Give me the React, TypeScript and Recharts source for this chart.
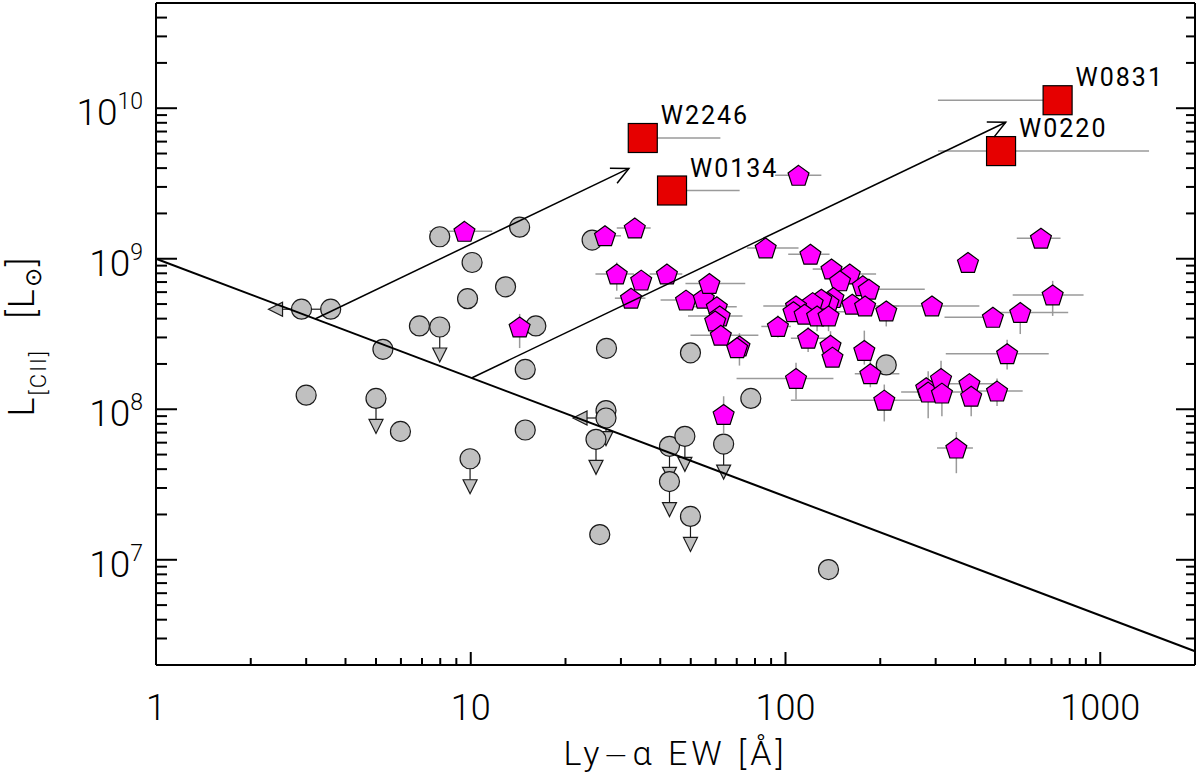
import React from "react";
import { ScatterChart, Scatter, XAxis, YAxis, ErrorBar, ReferenceLine } from "recharts";

const FONT = "Roboto, 'DejaVu Sans', sans-serif";

// axes: Ly-alpha EW [Å] (log) vs L[CII] [Lsun] (log)
const xDomain = [1, 2000];
const yDomain = [2e6, 5e10];
const xMajorTicks = [1, 10, 100, 1000];
const xAllTicks = [
  1, 2, 3, 4, 5, 6, 7, 8, 9, 10, 20, 30, 40, 50, 60, 70, 80, 90, 100, 200, 300, 400, 500, 600, 700, 800,
  900, 1000, 2000,
];
const yMajorTicks = [1e7, 1e8, 1e9, 1e10];
const yAllTicks = [
  2e6, 3e6, 4e6, 5e6, 6e6, 7e6, 8e6, 9e6, 1e7, 2e7, 3e7, 4e7, 5e7, 6e7, 7e7, 8e7, 9e7, 1e8, 2e8, 3e8, 4e8,
  5e8, 6e8, 7e8, 8e8, 9e8, 1e9, 2e9, 3e9, 4e9, 5e9, 6e9, 7e9, 8e9, 9e9, 1e10, 2e10, 3e10, 4e10, 5e10,
];
const yExponents = { 1e7: 7, 1e8: 8, 1e9: 9, 1e10: 10 };

// grey circles
const grayDetections = [
  { ew: 3.59, lcii: 4.62e8, ewLo: 3.11 },
  { ew: 5.26, lcii: 2.5e8 },
  { ew: 3.0, lcii: 1.24e8 },
  { ew: 5.98, lcii: 7.13e7 },
  { ew: 6.87, lcii: 3.58e8 },
  { ew: 7.97, lcii: 1.4e9 },
  { ew: 10.1, lcii: 9.44e8 },
  { ew: 9.77, lcii: 5.43e8 },
  { ew: 12.9, lcii: 6.51e8 },
  { ew: 14.3, lcii: 1.62e9 },
  { ew: 16.1, lcii: 3.58e8 },
  { ew: 14.9, lcii: 1.84e8 },
  { ew: 14.9, lcii: 7.28e7 },
  { ew: 24.3, lcii: 1.33e9 },
  { ew: 27.0, lcii: 2.54e8 },
  { ew: 25.7, lcii: 1.47e7 },
  { ew: 49.9, lcii: 2.37e8 },
  { ew: 77.6, lcii: 1.18e8 },
  { ew: 137, lcii: 8.61e6 },
  { ew: 209, lcii: 1.97e8 },
];

// grey circles, upper limits on L[CII]
const grayUpperLcii = [
  { ew: 5.0, lcii: 1.18e8 },
  { ew: 9.95, lcii: 4.69e7 },
  { ew: 7.97, lcii: 3.52e8 },
  { ew: 26.9, lcii: 9.8e7 },
  { ew: 25.0, lcii: 6.31e7 },
  { ew: 42.8, lcii: 5.67e7 },
  { ew: 47.9, lcii: 6.61e7 },
  { ew: 42.8, lcii: 3.31e7 },
  { ew: 49.9, lcii: 1.94e7 },
  { ew: 63.6, lcii: 5.87e7 },
];

// grey circles, upper limits on EW
const grayUpperEw = [
  { ew: 2.9, lcii: 4.62e8 },
  { ew: 26.9, lcii: 8.75e7 },
];

// magenta pentagons (with grey error bars)
const magentaSample = [
  { ew: 9.55, lcii: 1.52e9, ewLo: 7.39, ewHi: 11.7 },
  { ew: 14.3, lcii: 3.52e8, lciiLo: 2.55e8, lciiHi: 4.3e8 },
  { ew: 26.7, lcii: 1.42e9, ewLo: 24, ewHi: 30 },
  { ew: 33.2, lcii: 1.6e9, ewLo: 29.1, ewHi: 37.3 },
  { ew: 29.1, lcii: 7.91e8, ewLo: 24.9, ewHi: 33, lciiLo: 6.12e8, lciiHi: 9.44e8 },
  { ew: 34.8, lcii: 7.21e8 },
  { ew: 42.0, lcii: 7.91e8, ewLo: 37, ewHi: 47 },
  { ew: 32.3, lcii: 5.47e8, ewLo: 28.7, ewHi: 35.9 },
  { ew: 48.3, lcii: 5.31e8, ewLo: 40.1, ewHi: 61.3 },
  { ew: 55.0, lcii: 5.47e8 },
  { ew: 57.3, lcii: 6.84e8, ewLo: 48.1, ewHi: 74.5 },
  { ew: 60.5, lcii: 4.79e8, ewLo: 50, ewHi: 70 },
  { ew: 61.8, lcii: 4.17e8, ewLo: 49, ewHi: 73 },
  { ew: 59.8, lcii: 3.86e8 },
  { ew: 62.3, lcii: 3.1e8, ewLo: 49.9, ewHi: 82 },
  { ew: 71.4, lcii: 2.63e8, lciiLo: 1.95e8, lciiHi: 3.2e8 },
  { ew: 70.2, lcii: 2.56e8 },
  { ew: 86.5, lcii: 1.18e9, ewLo: 75.4, ewHi: 110 },
  { ew: 94.6, lcii: 3.55e8, ewLo: 83.8, ewHi: 104, lciiLo: 3.0e8, lciiHi: 4.2e8 },
  { ew: 63.6, lcii: 9.23e7, lciiLo: 6.95e7, lciiHi: 1.22e8 },
  { ew: 110, lcii: 3.58e9, ewLo: 92.7, ewHi: 130 },
  { ew: 120, lcii: 1.07e9, ewLo: 102, ewHi: 138 },
  { ew: 140, lcii: 8.54e8, ewLo: 122, ewHi: 151 },
  { ew: 160, lcii: 7.91e8, ewLo: 149, ewHi: 194 },
  { ew: 149, lcii: 7.13e8 },
  { ew: 176, lcii: 6.61e8 },
  { ew: 184, lcii: 6.28e8, ewLo: 166, ewHi: 277 },
  { ew: 209, lcii: 4.5e8, lciiLo: 3.55e8, lciiHi: 5.2e8 },
  { ew: 292, lcii: 4.86e8, ewLo: 216, ewHi: 413 },
  { ew: 163, lcii: 4.99e8 },
  { ew: 179, lcii: 4.86e8, ewLo: 150, ewHi: 230 },
  { ew: 142, lcii: 5.52e8 },
  { ew: 137, lcii: 5.11e8 },
  { ew: 130, lcii: 5.39e8 },
  { ew: 122, lcii: 5.11e8 },
  { ew: 108, lcii: 4.86e8, ewLo: 85, ewHi: 150 },
  { ew: 106, lcii: 4.45e8, ewLo: 100, ewHi: 155 },
  { ew: 115, lcii: 4.28e8 },
  { ew: 126, lcii: 4.17e8, lciiLo: 3.3e8, lciiHi: 4.8e8 },
  { ew: 137, lcii: 4.17e8, lciiLo: 3.3e8, lciiHi: 4.8e8 },
  { ew: 118, lcii: 2.96e8, ewLo: 104, ewHi: 135, lciiLo: 2.4e8, lciiHi: 3.5e8 },
  { ew: 139, lcii: 2.66e8, lciiLo: 2.2e8, lciiHi: 3.3e8 },
  { ew: 141, lcii: 2.22e8 },
  { ew: 178, lcii: 2.46e8, lciiLo: 1.98e8, lciiHi: 3.33e8 },
  { ew: 186, lcii: 1.72e8, ewLo: 166, ewHi: 230, lciiLo: 1.4e8, lciiHi: 2.1e8 },
  { ew: 108, lcii: 1.6e8, ewLo: 69.9, ewHi: 142, lciiLo: 1.16e8, lciiHi: 2.04e8 },
  { ew: 206, lcii: 1.15e8, ewLo: 104, ewHi: 287, lciiLo: 8.3e7, lciiHi: 1.46e8 },
  { ew: 280, lcii: 1.39e8 },
  { ew: 284, lcii: 1.3e8, ewLo: 233, ewHi: 420, lciiLo: 8.7e7, lciiHi: 1.79e8 },
  { ew: 312, lcii: 1.6e8, lciiLo: 1.2e8, lciiHi: 2.1e8 },
  { ew: 314, lcii: 1.28e8, lciiLo: 9e7, lciiHi: 1.6e8 },
  { ew: 384, lcii: 1.48e8, ewLo: 300, ewHi: 470 },
  { ew: 389, lcii: 1.22e8, lciiLo: 9e7, lciiHi: 1.5e8 },
  { ew: 470, lcii: 1.32e8, ewLo: 380, ewHi: 567, lciiLo: 1.05e8, lciiHi: 1.6e8 },
  { ew: 349, lcii: 5.52e7, ewLo: 303, ewHi: 394, lciiLo: 3.76e7, lciiHi: 7.06e7 },
  { ew: 380, lcii: 9.44e8 },
  { ew: 648, lcii: 1.37e9, ewLo: 543, ewHi: 748 },
  { ew: 706, lcii: 5.75e8, ewLo: 527, ewHi: 885, lciiLo: 4.17e8, lciiHi: 7.13e8 },
  { ew: 456, lcii: 4.08e8, ewLo: 320 },
  { ew: 557, lcii: 4.39e8, ewLo: 480, ewHi: 791, lciiLo: 3.16e8, lciiHi: 4.9e8 },
  { ew: 506, lcii: 2.34e8, ewLo: 323, ewHi: 686, lciiLo: 1.84e8, lciiHi: 2.9e8 },
];

// red squares
const wiseSources = [
  { name: "W2246", ew: 35.2, lcii: 6.34e9, ewHi: 62.1 },
  { name: "W0134", ew: 43.6, lcii: 2.84e9, ewHi: 71.5 },
  { name: "W0220", ew: 484, lcii: 5.19e9, ewLo: 305, ewHi: 1429 },
  { name: "W0831", ew: 732, lcii: 1.13e10, ewLo: 305 },
];

// black line and the two arrows
const cutLine = [
  { ew: 1, lcii: 1e9 },
  { ew: 2000, lcii: 2.47e6 },
];
const arrows = [
  [
    { ew: 3.2, lcii: 3.98e8 },
    { ew: 31.8, lcii: 3.98e9 },
  ],
  [
    { ew: 10.1, lcii: 1.62e8 },
    { ew: 501, lcii: 8.07e9 },
  ],
];

const errX = (d: any) => [d.ew - (d.ewLo ?? d.ew), (d.ewHi ?? d.ew) - d.ew];
const errY = (d: any) => [d.lcii - (d.lciiLo ?? d.lcii), (d.lciiHi ?? d.lcii) - d.lcii];

const GREY = "#c0c0c0";
const EDGE = "#1a1a1a";

const GrayCircle = ({ cx, cy }: any) => (
  <circle cx={cx} cy={cy} r={10} fill={GREY} stroke={EDGE} strokeWidth={1.2} />
);

const DownLimit = ({ cx, cy }: any) => (
  <g>
    <line x1={cx} y1={cy} x2={cx} y2={cy + 21} stroke={EDGE} strokeWidth={1.2} />
    <polygon
      points={`${cx - 7},${cy + 21} ${cx + 7},${cy + 21} ${cx},${cy + 35}`}
      fill={GREY}
      stroke={EDGE}
      strokeWidth={1.2}
    />
    <circle cx={cx} cy={cy} r={10} fill={GREY} stroke={EDGE} strokeWidth={1.2} />
  </g>
);

const LeftLimit = ({ cx, cy }: any) => (
  <g>
    <line x1={cx} y1={cy} x2={cx - 19} y2={cy} stroke={EDGE} strokeWidth={1.2} />
    <polygon
      points={`${cx - 19},${cy - 7} ${cx - 19},${cy + 7} ${cx - 33},${cy}`}
      fill={GREY}
      stroke={EDGE}
      strokeWidth={1.2}
    />
    <circle cx={cx} cy={cy} r={10} fill={GREY} stroke={EDGE} strokeWidth={1.2} />
  </g>
);

const Pentagon = ({ cx, cy }: any) => {
  const r = 11;
  const pts = [0, 1, 2, 3, 4]
    .map((k) => {
      const a = ((-90 + 72 * k) * Math.PI) / 180;
      return `${cx + r * Math.cos(a)},${cy + 1 + r * Math.sin(a)}`;
    })
    .join(" ");
  return <polygon points={pts} fill="#ff00ff" stroke="#000" strokeWidth={1.2} />;
};

const RedSquare = ({ cx, cy, payload }: any) => (
  <g>
    <rect x={cx - 14.5} y={cy - 14.5} width={29} height={29} fill="#e60000" stroke="#000" strokeWidth={1.2} />
    <text x={cx + 18} y={cy - 14} fontSize={25} fontFamily={FONT} letterSpacing={2} fill="#000">
      {payload.name}
    </text>
  </g>
);

const Arrow = ({ x1, y1, x2, y2 }: any) => {
  const ang = Math.atan2(y1 - y2, x1 - x2);
  const len = 19;
  const spread = (26 * Math.PI) / 180;
  const ax = x2 + len * Math.cos(ang + spread);
  const ay = y2 + len * Math.sin(ang + spread);
  const bx = x2 + len * Math.cos(ang - spread);
  const by = y2 + len * Math.sin(ang - spread);
  return (
    <g>
      <line x1={x1} y1={y1} x2={x2} y2={y2} stroke="#000" strokeWidth={1.5} />
      <polyline points={`${ax},${ay} ${x2},${y2} ${bx},${by}`} fill="none" stroke="#000" strokeWidth={1.5} />
    </g>
  );
};

const BottomTick = ({ x, y, payload }: any) => {
  const major = xMajorTicks.includes(payload.value);
  return (
    <g>
      <line x1={x} y1={y} x2={x} y2={y - (major ? 13 : 7)} stroke="#000" strokeWidth={2} />
      {major && (
        <text x={x} y={y + 55} textAnchor="middle" fontSize={36} fontFamily={FONT} fontWeight={300} fill="#000">
          {payload.value}
        </text>
      )}
    </g>
  );
};

const TopTick = ({ x, y, payload }: any) => {
  const major = xMajorTicks.includes(payload.value);
  return <line x1={x} y1={y} x2={x} y2={y + (major ? 11 : 5)} stroke="#000" strokeWidth={2} />;
};

const LeftTick = ({ x, y, payload }: any) => {
  const major = yMajorTicks.includes(payload.value);
  return (
    <g>
      <line x1={x} y1={y} x2={x + (major ? 21 : 11)} y2={y} stroke="#000" strokeWidth={2} />
      {major && (
        <text x={x - 13} y={y + 17} textAnchor="end" fontSize={37} fontFamily={FONT} fontWeight={300} fill="#000">
          10
          <tspan dy={-16} fontSize={23}>
            {yExponents[payload.value as keyof typeof yExponents]}
          </tspan>
        </text>
      )}
    </g>
  );
};

const RightTick = ({ x, y, payload }: any) => {
  const major = yMajorTicks.includes(payload.value);
  return <line x1={x} y1={y} x2={x - (major ? 19 : 9)} y2={y} stroke="#000" strokeWidth={2} />;
};

const XTitle = ({ viewBox }: any) => (
  <text
    x={viewBox.x + viewBox.width / 2}
    y={viewBox.y + 100}
    textAnchor="middle"
    fontSize={34}
    fontFamily={FONT}
    fontWeight={300}
    letterSpacing={4}
    fill="#000"
  >
    Ly
    <tspan fontFamily="'DejaVu Sans'" fontSize={30}>
      −
    </tspan>
    α EW [Å]
  </text>
);

const YTitle = ({ viewBox }: any) => (
  <text
    transform={`translate(${viewBox.x + 34}, ${viewBox.y + viewBox.height / 2 + 2}) rotate(-90)`}
    textAnchor="middle"
    fontSize={36}
    fontFamily={FONT}
    fontWeight={300}
    letterSpacing={2}
    fill="#000"
  >
    L
    <tspan fontSize={22} dy={12}>
      [CII]
    </tspan>
    <tspan dy={-12} dx={30}>
      [L
    </tspan>
    <tspan fontFamily="'DejaVu Sans'" fontSize={23} dy={7}>
      ⊙
    </tspan>
    <tspan dy={-7}>]</tspan>
  </text>
);

const axisLine = { stroke: "#000", strokeWidth: 2 };

export default function App() {
  return (
    <div style={{ position: "absolute", left: 0, top: 0, background: "#fff" }}>
      <ScatterChart width={1200} height={779} margin={{ top: 2, right: 4, bottom: 0, left: 0 }}>
        <XAxis
          type="number"
          dataKey="ew"
          scale="log"
          domain={xDomain}
          allowDataOverflow
          ticks={xAllTicks}
          interval={0}
          tickSize={0}
          tickMargin={0}
          tickLine={false}
          axisLine={axisLine}
          tick={(p: any) => <BottomTick {...p} />}
          height={114}
          label={{ content: (p: any) => <XTitle {...p} /> }}
        />
        <XAxis
          xAxisId="top"
          orientation="top"
          type="number"
          scale="log"
          domain={xDomain}
          allowDataOverflow
          ticks={xAllTicks}
          interval={0}
          tickSize={0}
          tickMargin={0}
          tickLine={false}
          axisLine={axisLine}
          tick={(p: any) => <TopTick {...p} />}
          height={1}
        />
        <YAxis
          type="number"
          dataKey="lcii"
          scale="log"
          domain={yDomain}
          allowDataOverflow
          ticks={yAllTicks}
          interval={0}
          tickSize={0}
          tickMargin={0}
          tickLine={false}
          axisLine={axisLine}
          tick={(p: any) => <LeftTick {...p} />}
          width={156}
          label={{ content: (p: any) => <YTitle {...p} /> }}
        />
        <YAxis
          yAxisId="right"
          orientation="right"
          type="number"
          scale="log"
          domain={yDomain}
          allowDataOverflow
          ticks={yAllTicks}
          interval={0}
          tickSize={0}
          tickMargin={0}
          tickLine={false}
          axisLine={axisLine}
          tick={(p: any) => <RightTick {...p} />}
          width={1}
        />

        <Scatter data={grayDetections} shape={GrayCircle} isAnimationActive={false}>
          <ErrorBar direction="x" dataKey={errX} width={0} stroke={EDGE} strokeWidth={1.2} />
        </Scatter>
        <Scatter data={grayUpperLcii} shape={DownLimit} isAnimationActive={false} />
        <Scatter data={grayUpperEw} shape={LeftLimit} isAnimationActive={false} />
        <Scatter data={magentaSample} shape={Pentagon} isAnimationActive={false}>
          <ErrorBar direction="x" dataKey={errX} width={0} stroke="#9a9a9a" strokeWidth={1.5} />
          <ErrorBar direction="y" dataKey={errY} width={0} stroke="#9a9a9a" strokeWidth={1.5} />
        </Scatter>
        <Scatter data={wiseSources} shape={RedSquare} isAnimationActive={false}>
          <ErrorBar direction="x" dataKey={errX} width={0} stroke="#9a9a9a" strokeWidth={1.5} />
        </Scatter>

        <ReferenceLine
          segment={[
            { x: cutLine[0].ew, y: cutLine[0].lcii },
            { x: cutLine[1].ew, y: cutLine[1].lcii },
          ]}
          stroke="#000"
          strokeWidth={2}
          ifOverflow="visible"
          zIndex={900}
        />
        {arrows.map((a, i) => (
          <ReferenceLine
            key={i}
            segment={[
              { x: a[0].ew, y: a[0].lcii },
              { x: a[1].ew, y: a[1].lcii },
            ]}
            ifOverflow="visible"
            zIndex={900}
            shape={(p: any) => <Arrow {...p} />}
          />
        ))}
      </ScatterChart>
    </div>
  );
}
